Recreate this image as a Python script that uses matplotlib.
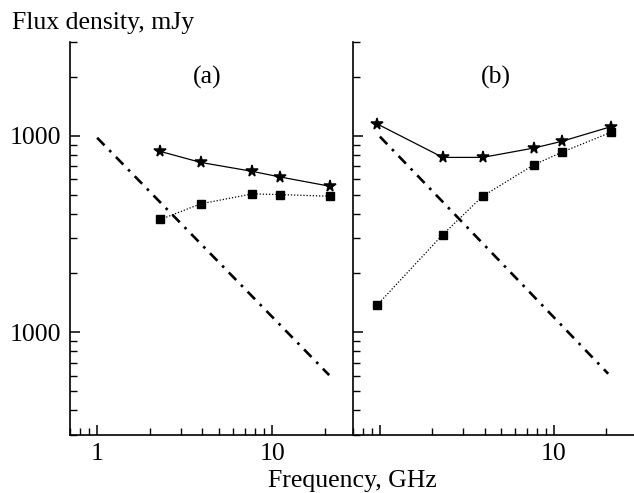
import matplotlib
matplotlib.use("Agg")
import matplotlib.pyplot as plt
from matplotlib.ticker import FixedLocator, FixedFormatter, LogLocator, NullFormatter

# ---- data ----
freq_a = [2.3, 3.9, 7.7, 11.1, 21.5]
star_a = [832, 732, 659, 617, 553]
square_a = [375, 450, 506, 502, 492]
fit_a_x = [1.0, 21.2]
fit_a_y = [977, 60.5]

freq_b = [0.96, 2.3, 3.9, 7.7, 11.1, 21.5]
star_b = [1151, 776, 776, 866, 936, 1114]
square_b = [137, 314, 492, 712, 823, 1044]
fit_b_x = [1.0, 20.6]
fit_b_y = [990, 61.5]

y_ticks = [100, 1000]
y_ticklabels = ["1000", "1000"]
xticks_a = [1, 10]
xticklabels_a = ["1", "10"]
xticks_b = [1, 10]
xticklabels_b = ["", "10"]
panel_labels = ["(a)", "(b)"]

plt.rcParams['font.family'] = ['Liberation Serif', 'DejaVu Serif']
FS = 18.5

fig = plt.figure(figsize=(6.34, 4.93), dpi=100)
W, H = 634, 493
bottom = 1 - 435 / H
height = (435 - 42) / H
ax_a = fig.add_axes([70 / W, bottom, 283 / W, height])
ax_b = fig.add_axes([353 / W, bottom, 281 / W, height])

dash = (0, (4, 2.6, 1, 2.6))
for ax, fx, sy, qy, lx, ly in [
    (ax_a, freq_a, star_a, square_a, fit_a_x, fit_a_y),
    (ax_b, freq_b, star_b, square_b, fit_b_x, fit_b_y),
]:
    ax.set_xscale('log')
    ax.set_yscale('log')
    ax.plot(lx, ly, color='black', lw=1.9, linestyle=dash)
    ax.plot(fx, sy, color='black', lw=0.9, linestyle='-', marker='*',
            markersize=8.5, markeredgewidth=1.1)
    ax.plot(fx, qy, color='black', lw=0.9, linestyle=(0, (1, 1.5)), marker='s',
            markersize=5.5)
    ax.set_xlim(0.7, 29)
    ax.set_ylim(30, 3000)
    ax.spines['top'].set_visible(False)
    ax.spines['right'].set_visible(False)
    for s in ['left', 'bottom']:
        ax.spines[s].set_linewidth(1.2)
    ax.yaxis.set_major_locator(FixedLocator(y_ticks))
    ax.yaxis.set_minor_locator(LogLocator(base=10, subs=range(2, 10)))
    ax.yaxis.set_minor_formatter(NullFormatter())
    ax.xaxis.set_minor_locator(LogLocator(base=10, subs=range(2, 10)))
    ax.xaxis.set_minor_formatter(NullFormatter())
    ax.tick_params(which='major', direction='in', length=7, width=1.1,
                   labelsize=FS, pad=6)
    ax.tick_params(which='minor', direction='in', length=5, width=1.0)

ax_a.yaxis.set_major_formatter(FixedFormatter(y_ticklabels))
ax_b.set_yticklabels([])
ax_a.xaxis.set_major_locator(FixedLocator(xticks_a))
ax_a.xaxis.set_major_formatter(FixedFormatter(xticklabels_a))
ax_b.xaxis.set_major_locator(FixedLocator(xticks_b))
ax_b.xaxis.set_major_formatter(FixedFormatter(xticklabels_b))

ax_a.text(0.485, 0.91, panel_labels[0], transform=ax_a.transAxes,
          ha='center', va='center', fontsize=FS)
ax_b.text(0.51, 0.91, panel_labels[1], transform=ax_b.transAxes,
          ha='center', va='center', fontsize=FS)

fig.text(12 / W, 1 - 29 / H, "Flux density, mJy", ha='left', va='baseline',
         fontsize=FS)
fig.text(352 / W, 1 - 487 / H, "Frequency, GHz", ha='center', va='baseline',
         fontsize=FS)

fig.savefig("out.png", dpi=100)
